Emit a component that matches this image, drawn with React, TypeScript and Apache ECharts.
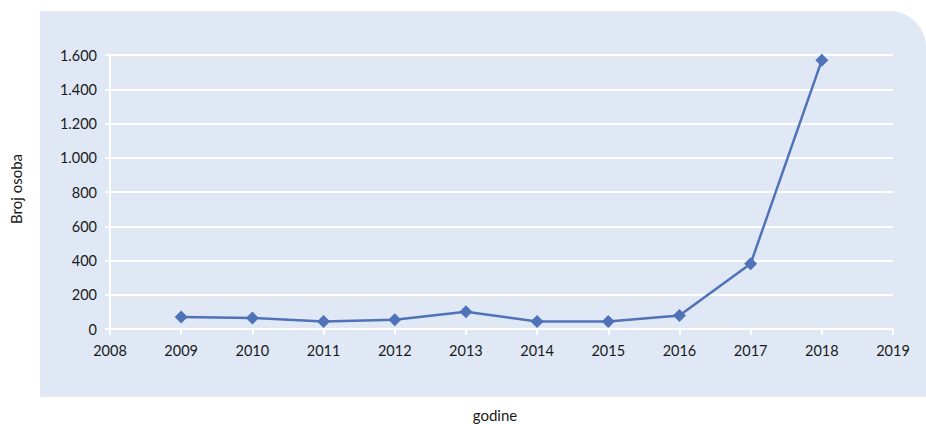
import React, { useEffect, useRef } from "react";
import * as echarts from "echarts";

const years = [2009, 2010, 2011, 2012, 2013, 2014, 2015, 2016, 2017, 2018];
const persons = [70, 64, 44, 54, 101, 44, 44, 79, 381, 1570];
const yAxisName = "Broj osoba";
const xAxisName = "godine";

const fmt = (v: number) => String(v).replace(/\B(?=(\d{3})+(?!\d))/g, ".");

export default function App() {
  const ref = useRef<HTMLDivElement>(null);
  useEffect(() => {
    if (!ref.current) return;
    const chart = echarts.init(ref.current, undefined, { renderer: "svg" });
    const font = "Lato, 'Open Sans', sans-serif";
    chart.setOption({
      animation: false,
      textStyle: { fontFamily: font },
      graphic: [
        {
          type: "rect",
          shape: { x: 40, y: 11, width: 886, height: 386, r: [0, 36, 0, 0] },
          style: { fill: "#dfe8f4" },
          z: -10,
        },
        {
          type: "text",
          x: 16,
          y: 189,
          rotation: Math.PI / 2,
          style: { text: yAxisName, fill: "#1a1a1a", font: `15px ${font}`, align: "center", verticalAlign: "middle" },
        },
        {
          type: "text",
          x: 495,
          y: 415,
          style: { text: xAxisName, fill: "#1a1a1a", font: `15px ${font}`, align: "center", verticalAlign: "middle" },
        },
      ],
      grid: { left: 110, right: 33, top: 55, bottom: 95 },
      xAxis: {
        type: "value",
        min: 2008,
        max: 2019,
        interval: 1,
        axisLine: { show: true, lineStyle: { color: "#ffffff", width: 2 } },
        axisTick: { show: true, length: 6, lineStyle: { color: "#ffffff", width: 2 } },
        axisLabel: { color: "#1a1a1a", fontSize: 14.5, margin: 14, formatter: (v: number) => String(v) },
        splitLine: { show: false },
      },
      yAxis: {
        type: "value",
        min: 0,
        max: 1600,
        interval: 200,
        axisLine: { show: true, lineStyle: { color: "#ffffff", width: 2 } },
        axisTick: { show: true, length: 5, lineStyle: { color: "#ffffff", width: 2 } },
        axisLabel: { color: "#1a1a1a", fontSize: 14.5, margin: 13, formatter: (v: number) => fmt(v) },
        splitLine: { show: true, lineStyle: { color: "#ffffff", width: 2 } },
      },
      series: [
        {
          type: "line",
          data: years.map((y, i) => [y, persons[i]]),
          symbol: "diamond",
          symbolSize: 13,
          lineStyle: { color: "#4f72b8", width: 2.5 },
          itemStyle: { color: "#4f72b8" },
        },
      ],
    });
    return () => chart.dispose();
  }, []);
  return <div ref={ref} style={{ width: 926, height: 424, position: "absolute", left: 0, top: 0 }} />;
}
